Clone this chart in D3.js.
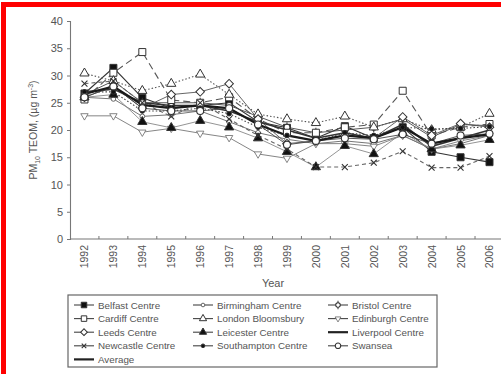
<!DOCTYPE html>
<html>
<head>
<meta charset="utf-8">
<script src="https://cdn.jsdelivr.net/npm/d3@7"></script>
<style>
  body { margin: 0; background: #fff; }
  svg { display: block; font-family: "Liberation Sans", Arial, sans-serif; }
</style>
</head>
<body>
<svg id="chart" width="501" height="374"></svg>
<script>
const years = [1992, 1993, 1994, 1995, 1996, 1997, 1998, 1999, 2000, 2001, 2002, 2003, 2004, 2005, 2006];
const yTicks = [0, 5, 10, 15, 20, 25, 30, 35, 40];

const belfast     = [26.7, 31.4, 25.9, 24.0, 24.5, 25.0, 21.5, 20.4, 18.5, 20.7, 18.5, 20.5, 16.0, 15.0, 14.1];
const birmingham  = [26.0, 25.7, 22.5, 22.8, 23.5, 21.5, 19.5, 18.3, 17.5, 18.0, 17.5, 19.0, 16.5, 17.5, 19.0];
const bristol     = [26.5, 29.0, 25.0, 25.0, 25.0, 24.5, 22.5, 20.5, 19.5, 20.0, 20.5, 22.0, 18.7, 21.0, 20.8];
const cardiff     = [25.6, 30.5, 34.3, 25.5, 25.0, 26.0, 22.0, 19.5, 19.5, 20.5, 21.0, 27.2, 19.0, 20.5, 21.1];
const london      = [30.4, 29.0, 27.2, 28.5, 30.2, 26.5, 22.9, 22.0, 21.3, 22.5, 20.5, 22.0, 20.0, 20.5, 23.0];
const edinburgh   = [22.6, 22.6, 19.6, 20.3, 19.4, 18.6, 15.6, 14.8, 17.5, 17.5, 17.0, 19.0, 16.5, 18.0, 19.0];
const leeds       = [26.0, 28.0, 24.0, 26.5, 27.0, 28.5, 22.0, 17.5, 18.0, 19.0, 18.5, 22.4, 19.0, 21.2, 20.5];
const leicester   = [26.0, 26.5, 21.5, 20.4, 21.7, 20.5, 18.5, 16.0, 13.2, 17.1, 15.6, 19.5, 16.5, 17.2, 18.2];
const liverpool   = [27.0, 27.5, 25.0, 24.5, 24.5, 23.5, 21.5, 20.0, 18.5, 19.5, 18.5, 21.0, 17.0, 18.5, 20.0];
const newcastle   = [28.5, 29.0, 25.0, 22.5, 25.0, 22.0, 19.0, 16.5, 13.2, 13.2, 14.0, 16.1, 13.1, 13.1, 15.2];
const southampton = [27.0, 27.0, 23.5, 23.5, 24.0, 23.0, 20.5, 19.0, 18.0, 19.5, 19.0, 20.5, 20.2, 20.3, 20.6];
const swansea     = [26.0, 28.0, 24.0, 23.5, 23.5, 24.0, 21.0, 17.3, 18.0, 18.5, 18.3, 19.2, 17.5, 19.0, 19.3];
const average     = [26.6, 28.0, 24.6, 24.0, 24.5, 24.0, 21.0, 19.0, 18.0, 19.0, 18.5, 20.5, 17.5, 18.5, 19.2];

// name, values, marker, filled, dash, colour, width
const series = [
  { name: "Belfast Centre", values: belfast, marker: "square", fill: true, dash: null, color: "#333", width: 1.1 },
  { name: "Birmingham Centre", values: birmingham, marker: "smallcircle", fill: false, dash: null, color: "#666", width: 0.9 },
  { name: "Bristol Centre", values: bristol, marker: "tickcircle", fill: false, dash: null, color: "#444", width: 0.9 },
  { name: "Cardiff Centre", values: cardiff, marker: "square", fill: false, dash: "7,4", color: "#555", width: 1.1 },
  { name: "London Bloomsbury", values: london, marker: "triangle", fill: false, dash: "1.5,2", color: "#555", width: 1.1 },
  { name: "Edinburgh Centre", values: edinburgh, marker: "downtriangle", fill: false, dash: null, color: "#777", width: 0.9 },
  { name: "Leeds Centre", values: leeds, marker: "diamond", fill: false, dash: null, color: "#555", width: 0.9 },
  { name: "Leicester Centre", values: leicester, marker: "triangle", fill: true, dash: null, color: "#888", width: 0.9 },
  { name: "Liverpool Centre", values: liverpool, marker: null, fill: false, dash: null, color: "#333", width: 1.6 },
  { name: "Newcastle Centre", values: newcastle, marker: "x", fill: false, dash: "4,3", color: "#666", width: 1.1 },
  { name: "Southampton Centre", values: southampton, marker: "dot", fill: true, dash: "1.5,2", color: "#444", width: 1.1 },
  { name: "Swansea", values: swansea, marker: "circle", fill: false, dash: null, color: "#444", width: 0.9 },
  { name: "Average", values: average, marker: null, fill: false, dash: null, color: "#1a1a1a", width: 2.2 }
];

const svg = d3.select("#chart");

// red frame, cropped on the right and bottom
svg.append("path")
  .attr("d", "M3.5,380 L3.5,4.5 L510,4.5")
  .attr("fill", "none")
  .attr("stroke", "#ff0000")
  .attr("stroke-width", 5);

const margin = { left: 70, top: 21, bottom: 239 };

const x = d3.scaleBand().domain(years).range([margin.left, margin.left + 28.93 * years.length]);
const y = d3.scaleLinear().domain([0, 40]).range([margin.bottom, margin.top]);

const axisColor = "#777";
const textColor = "#555";

// y axis
const yAxis = svg.append("g")
  .attr("transform", "translate(" + margin.left + ",0)")
  .call(d3.axisLeft(y).tickValues(yTicks).tickSize(3).tickPadding(4));
yAxis.select(".domain").attr("stroke", axisColor).attr("stroke-width", 1.1);
yAxis.selectAll(".tick line").attr("stroke", axisColor);
yAxis.selectAll(".tick text").attr("fill", textColor).style("font-size", "11px");

// x axis: ticks at band edges, pointing up
const xAxis = svg.append("g")
  .attr("transform", "translate(0," + margin.bottom + ")");
xAxis.append("line")
  .attr("x1", margin.left).attr("x2", 520)
  .attr("stroke", axisColor).attr("stroke-width", 1.1);
xAxis.selectAll("line.tk")
  .data(years.slice(1))
  .enter().append("line")
  .attr("class", "tk")
  .attr("x1", d => x(d)).attr("x2", d => x(d))
  .attr("y1", 0).attr("y2", -3)
  .attr("stroke", axisColor);
xAxis.selectAll("text")
  .data(years)
  .enter().append("text")
  .attr("transform", d => "translate(" + (x(d) + x.bandwidth() / 2 + 4) + ",6) rotate(-90)")
  .attr("text-anchor", "end")
  .attr("fill", textColor)
  .style("font-size", "10.5px")
  .text(d => d);

svg.append("text")
  .attr("x", 273).attr("y", 287)
  .attr("text-anchor", "middle")
  .attr("fill", textColor)
  .style("font-size", "11px")
  .text("Year");

// y title with sub/superscript
const yTitle = svg.append("text")
  .attr("transform", "translate(37,130) rotate(-90)")
  .attr("text-anchor", "middle")
  .attr("fill", textColor)
  .style("font-size", "10.5px");
yTitle.append("tspan").text("PM");
yTitle.append("tspan").attr("dy", 3).style("font-size", "7px").text("10");
yTitle.append("tspan").attr("dy", -3).text(" TEOM, (µg m");
yTitle.append("tspan").attr("dy", -4).style("font-size", "7px").text("-3");
yTitle.append("tspan").attr("dy", 4).text(")");

function drawMarker(g, s, size) {
  if (!s.marker) return;
  const stroke = "#333";
  const fill = s.fill ? "#111" : "#fff";
  if (s.marker === "square") {
    g.append("path").attr("d", d3.symbol(d3.symbolSquare, size * size)())
      .attr("fill", fill).attr("stroke", stroke).attr("stroke-width", 1);
  } else if (s.marker === "triangle" || s.marker === "downtriangle") {
    g.append("path").attr("d", d3.symbol(d3.symbolTriangle, size * size * 0.75)())
      .attr("transform", s.marker === "downtriangle" ? "rotate(180) scale(0.8)" : null)
      .attr("fill", fill).attr("stroke", s.marker === "downtriangle" ? "#666" : stroke).attr("stroke-width", 1);
  } else if (s.marker === "diamond") {
    g.append("path").attr("d", d3.symbol(d3.symbolSquare, size * size * 0.75)())
      .attr("transform", "rotate(45)")
      .attr("fill", fill).attr("stroke", stroke).attr("stroke-width", 1);
  } else if (s.marker === "circle") {
    g.append("circle").attr("r", size / 2)
      .attr("fill", fill).attr("stroke", stroke).attr("stroke-width", 1.1);
  } else if (s.marker === "tickcircle") {
    g.append("path").attr("d", "M0," + (-size / 2 - 1.5) + "V" + (size / 2 + 1.5))
      .attr("stroke", stroke).attr("stroke-width", 1);
    g.append("circle").attr("r", size / 2 - 0.5)
      .attr("fill", fill).attr("stroke", stroke).attr("stroke-width", 1.1);
  } else if (s.marker === "smallcircle") {
    g.append("circle").attr("r", size / 3)
      .attr("fill", fill).attr("stroke", "#666").attr("stroke-width", 1);
  } else if (s.marker === "dot") {
    g.append("circle").attr("r", size / 3)
      .attr("fill", fill).attr("stroke", stroke);
  } else if (s.marker === "x") {
    g.append("path").attr("d", d3.symbol(d3.symbolX, size * size * 0.5)())
      .attr("fill", "none").attr("stroke", stroke).attr("stroke-width", 1.1);
  }
}

const line = d3.line()
  .x((d, i) => x(years[i]) + x.bandwidth() / 2)
  .y(d => y(d));

const plot = svg.append("g");
series.forEach(s => {
  plot.append("path")
    .datum(s.values)
    .attr("fill", "none")
    .attr("stroke", s.color)
    .attr("stroke-width", s.width)
    .attr("stroke-dasharray", s.dash)
    .attr("d", line);
});
series.forEach(s => {
  plot.selectAll(null)
    .data(s.values)
    .enter().append("g")
    .attr("transform", (d, i) => "translate(" + (x(years[i]) + x.bandwidth() / 2) + "," + y(d) + ")")
    .each(function() { drawMarker(d3.select(this), s, 7); });
});

// legend
const legend = svg.append("g");
legend.append("rect")
  .attr("x", 68).attr("y", 295).attr("width", 369).attr("height", 72)
  .attr("fill", "#fff").attr("stroke", "#666").attr("stroke-width", 1.2);

const colX = [74, 193, 328];
series.forEach((s, i) => {
  const col = i % 3, row = Math.floor(i / 3);
  const g = legend.append("g")
    .attr("transform", "translate(" + colX[col] + "," + (305 + row * 13.6) + ")");
  g.append("line")
    .attr("x1", 0).attr("x2", 20)
    .attr("stroke", s.marker ? "#444" : "#222")
    .attr("stroke-width", s.marker ? 1.1 : 2.2);
  const m = g.append("g").attr("transform", "translate(10,0)");
  drawMarker(m, s, 5.5);
  g.append("text")
    .attr("x", 24).attr("y", 3.5)
    .attr("fill", textColor)
    .style("font-size", "9.8px")
    .text(s.name);
});
</script>
</body>
</html>
